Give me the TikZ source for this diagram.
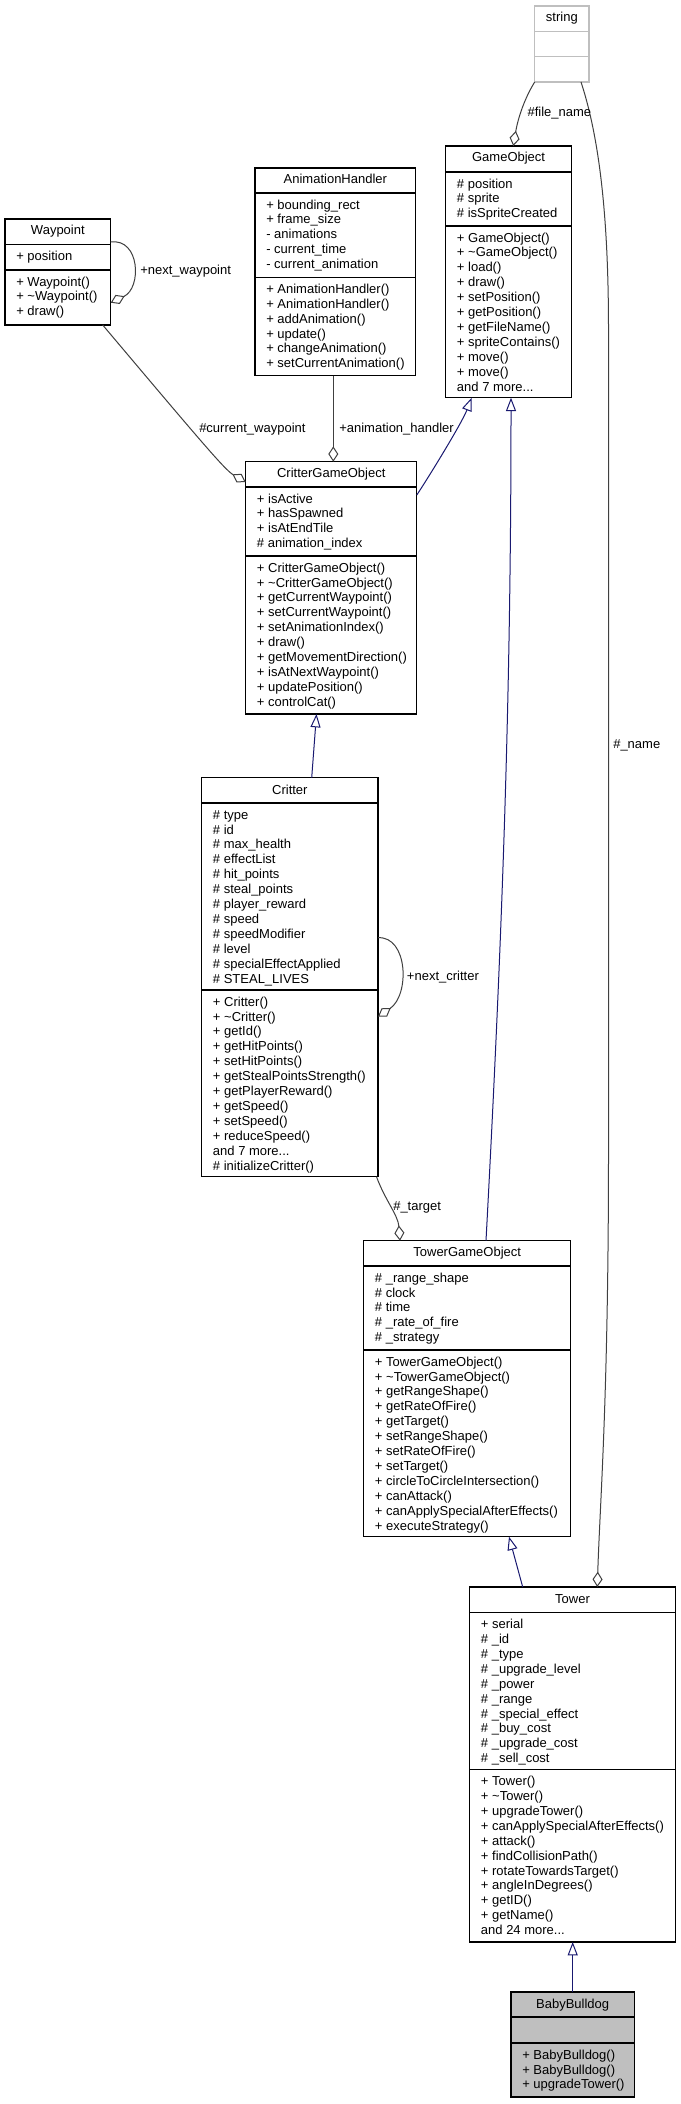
\documentclass[tikz,border=0pt]{standalone}
\usepackage{fontspec}
\setmainfont{Liberation Sans}
\usetikzlibrary{arrows.meta,calc,fit}
\definecolor{mnblue}{HTML}{191970}
\definecolor{gline}{HTML}{404040}
\definecolor{gfill}{HTML}{BFBFBF}
\newcommand\fsz{\fontsize{9.75pt}{11.175pt}\selectfont}
\newcommand\dvd[4][black]{\draw[line width=0.8pt,#1] (#2,#4) -- (#3,#4);}
\begin{document}
\begin{tikzpicture}[x=0.75pt,y=-0.75pt,
  box/.style={draw=black, line width=0.8pt, inner sep=0pt, outer sep=0pt, fill=white},
  txt/.style={anchor=north west, inner sep=0pt, align=left, font=\fsz},
  ttl/.style={anchor=base, inner sep=0pt, font=\fsz},
  lbl/.style={anchor=west, inner sep=0pt, font=\fsz},
  inh/.style={draw=mnblue, line width=0.75pt, -{Triangle[length=10pt,width=7.5pt,fill=white,line width=0.75pt]}},
  agg/.style={draw=gline, line width=0.75pt, -{Diamond[length=11.5pt,width=7.5pt,fill=white,line width=0.75pt]}}]
\useasboundingbox (0,0) rectangle (681,2104);
\fill[white] (0,0) rectangle (681,2104);

% ---------- string ----------
\coordinate (str-a) at (534.7,6); \coordinate (str-b) at (589,82);
\node[box, draw=gfill, fit=(str-a)(str-b)] (str) {};
\dvd[gfill]{534.7}{589}{31.7}
\dvd[gfill]{534.7}{589}{56.7}
\node[ttl] (str-t) at (561.85,22) {string};

% ---------- Waypoint ----------
\coordinate (wp-a0) at (5,219); \coordinate (wp-b0) at (110.7,325);
\node[box, fit=(wp-a0)(wp-b0)] (wp) {};
\dvd{5}{110.7}{244.3}
\dvd{5}{110.7}{270}
\node[ttl] (wp-t) at (57.85,235) {Waypoint};
\node[txt] (wp-a) at (16,249.7) {\strut+ position};
\node[txt] (wp-m) at (16,275.4) {\strut+ Waypoint()\\\strut+ \textasciitilde Waypoint()\\\strut+ draw()};

% ---------- AnimationHandler ----------
\coordinate (ah-a0) at (255,168); \coordinate (ah-b0) at (415.7,375.7);
\node[box, fit=(ah-a0)(ah-b0)] (ah) {};
\dvd{255}{415.7}{193}
\dvd{255}{415.7}{277.3}
\node[ttl] (ah-t) at (335.35,184) {AnimationHandler};
\node[txt] (ah-a) at (266,198.4) {\strut+ bounding\_rect\\\strut+ frame\_size\\\strut- animations\\\strut- current\_time\\\strut- current\_animation};
\node[txt] (ah-m) at (266,282.7) {\strut+ AnimationHandler()\\\strut+ AnimationHandler()\\\strut+ addAnimation()\\\strut+ update()\\\strut+ changeAnimation()\\\strut+ setCurrentAnimation()};

% ---------- GameObject ----------
\coordinate (go-a0) at (445.7,146); \coordinate (go-b0) at (571.5,397.7);
\node[box, fit=(go-a0)(go-b0)] (go) {};
\dvd{445.7}{571.5}{172}
\dvd{445.7}{571.5}{226}
\node[ttl] (go-t) at (508.6,162) {GameObject};
\node[txt] (go-a) at (456.7,177.4) {\strut\# position\\\strut\# sprite\\\strut\# isSpriteCreated};
\node[txt] (go-m) at (456.7,231.4) {\strut+ GameObject()\\\strut+ \textasciitilde GameObject()\\\strut+ load()\\\strut+ draw()\\\strut+ setPosition()\\\strut+ getPosition()\\\strut+ getFileName()\\\strut+ spriteContains()\\\strut+ move()\\\strut+ move()\\\strut and 7 more...};

% ---------- CritterGameObject ----------
\coordinate (cgo-a0) at (245.7,461.7); \coordinate (cgo-b0) at (416.8,714);
\node[box, fit=(cgo-a0)(cgo-b0)] (cgo) {};
\dvd{245.7}{416.8}{487}
\dvd{245.7}{416.8}{556}
\node[ttl] (cgo-t) at (331.25,477.7) {CritterGameObject};
\node[txt] (cgo-a) at (256.7,492.4) {\strut+ isActive\\\strut+ hasSpawned\\\strut+ isAtEndTile\\\strut\# animation\_index};
\node[txt] (cgo-m) at (256.7,561.4) {\strut+ CritterGameObject()\\\strut+ \textasciitilde CritterGameObject()\\\strut+ getCurrentWaypoint()\\\strut+ setCurrentWaypoint()\\\strut+ setAnimationIndex()\\\strut+ draw()\\\strut+ getMovementDirection()\\\strut+ isAtNextWaypoint()\\\strut+ updatePosition()\\\strut+ controlCat()};

% ---------- Critter ----------
\coordinate (crit-a0) at (201.7,777.7); \coordinate (crit-b0) at (378,1176.7);
\node[box, fit=(crit-a0)(crit-b0)] (crit) {};
\dvd{201.7}{378}{803}
\dvd{201.7}{378}{990}
\node[ttl] (crit-t) at (289.85,794) {Critter};
\node[txt] (crit-a) at (212.7,808.4) {\strut\# type\\\strut\# id\\\strut\# max\_health\\\strut\# effectList\\\strut\# hit\_points\\\strut\# steal\_points\\\strut\# player\_reward\\\strut\# speed\\\strut\# speedModifier\\\strut\# level\\\strut\# specialEffectApplied\\\strut\# STEAL\_LIVES};
\node[txt] (crit-m) at (212.7,995.4) {\strut+ Critter()\\\strut+ \textasciitilde Critter()\\\strut+ getId()\\\strut+ getHitPoints()\\\strut+ setHitPoints()\\\strut+ getStealPointsStrength()\\\strut+ getPlayerReward()\\\strut+ getSpeed()\\\strut+ setSpeed()\\\strut+ reduceSpeed()\\\strut and 7 more...\\\strut\# initializeCritter()};

% ---------- TowerGameObject ----------
\coordinate (tgo-a0) at (363.7,1240.7); \coordinate (tgo-b0) at (570.7,1536.7);
\node[box, fit=(tgo-a0)(tgo-b0)] (tgo) {};
\dvd{363.7}{570.7}{1266}
\dvd{363.7}{570.7}{1350}
\node[ttl] (tgo-t) at (467.2,1256.7) {TowerGameObject};
\node[txt] (tgo-a) at (374.7,1271.4) {\strut\# \_range\_shape\\\strut\# clock\\\strut\# time\\\strut\# \_rate\_of\_fire\\\strut\# \_strategy};
\node[txt] (tgo-m) at (374.7,1355.4) {\strut+ TowerGameObject()\\\strut+ \textasciitilde TowerGameObject()\\\strut+ getRangeShape()\\\strut+ getRateOfFire()\\\strut+ getTarget()\\\strut+ setRangeShape()\\\strut+ setRateOfFire()\\\strut+ setTarget()\\\strut+ circleToCircleIntersection()\\\strut+ canAttack()\\\strut+ canApplySpecialAfterEffects()\\\strut+ executeStrategy()};

% ---------- Tower ----------
\coordinate (tower-a0) at (469.7,1587); \coordinate (tower-b0) at (675.3,1942);
\node[box, fit=(tower-a0)(tower-b0)] (tower) {};
\dvd{469.7}{675.3}{1612.5}
\dvd{469.7}{675.3}{1769.5}
\node[ttl] (tower-t) at (572.5,1603) {Tower};
\node[txt] (tower-a) at (480.7,1617.9) {\strut+ serial\\\strut\# \_id\\\strut\# \_type\\\strut\# \_upgrade\_level\\\strut\# \_power\\\strut\# \_range\\\strut\# \_special\_effect\\\strut\# \_buy\_cost\\\strut\# \_upgrade\_cost\\\strut\# \_sell\_cost};
\node[txt] (tower-m) at (480.7,1774.9) {\strut+ Tower()\\\strut+ \textasciitilde Tower()\\\strut+ upgradeTower()\\\strut+ canApplySpecialAfterEffects()\\\strut+ attack()\\\strut+ findCollisionPath()\\\strut+ rotateTowardsTarget()\\\strut+ angleInDegrees()\\\strut+ getID()\\\strut+ getName()\\\strut and 24 more...};

% ---------- BabyBulldog ----------
\coordinate (bb-a0) at (511,1992); \coordinate (bb-b0) at (634.3,2097);
\node[box, fill=gfill, fit=(bb-a0)(bb-b0)] (bb) {};
\dvd{511}{634.3}{2017}
\dvd{511}{634.3}{2043}
\node[ttl] (bb-t) at (572.65,2008) {BabyBulldog};
\node[txt] (bb-m) at (522,2048.4) {\strut+ BabyBulldog()\\\strut+ BabyBulldog()\\\strut+ upgradeTower()};

% ---------- associations ----------
\draw[agg] (str.south west) .. controls +(-10,16) and +(4.7,-28) .. ($(go.north west)+(67.6,0)$);
\draw[agg] ($(str.south east)+(-8,0)$) .. controls +(19,58) and +(0,-110) .. (608.5,330) -- (608.5,1150) .. controls +(0,250) and +(2.7,-87) .. ($(tower.north west)+(127.6,0)$);
\draw[agg] ($(wp.north east)+(0,23)$) .. controls +(29.3,-4) and +(31.3,-14.7) .. ($(wp.north east)+(0,83.7)$);
\draw[agg] ($(wp.south east)+(-8,0)$) .. controls +(97,115) and +(-20.7,-12) .. ($(cgo.north west)+(0,20.3)$);
\draw[agg] ($(ah.south west)+(78.3,0)$) -- ($(cgo.north west)+(87.6,0)$);
\draw[agg] ($(crit.north east)+(0,160)$) .. controls +(30,-1.7) and +(32,-21.7) .. ($(crit.north east)+(0,239)$);
\draw[agg] ($(crit.south east)+(-1.5,0)$) .. controls +(8.5,23.3) and +(-2,-25.7) .. ($(tgo.north west)+(36.3,0)$);

% ---------- inheritance ----------
\draw[inh] ($(cgo.north east)+(0,33.3)$) .. controls +(13.2,-20) and +(-9.7,25) .. ($(go.south west)+(26,0)$);
\draw[inh] ($(crit.north west)+(110,0)$) -- ($(cgo.south west)+(70.8,0)$);
\draw[inh] ($(tgo.north west)+(122.3,0)$) .. controls +(16,-300) and +(0,302.3) .. ($(go.south west)+(65.3,0)$);
\draw[inh] ($(tower.north west)+(53,0)$) -- ($(tgo.south west)+(145.3,0)$);
\draw[inh] ($(bb.north west)+(61.7,0)$) -- ($(tower.south west)+(103,0)$);

% ---------- labels ----------
\node[lbl] (l-file) at (527.3,113.3) {\#file\_name};
\node[lbl] (l-nwp) at (140,270.7) {+next\_waypoint};
\node[lbl] (l-cwp) at (199,428.7) {\#current\_waypoint};
\node[lbl] (l-ah) at (339,428.7) {+animation\_handler};
\node[lbl] (l-name) at (613,745) {\#\_name};
\node[lbl] (l-ncr) at (406.7,976.7) {+next\_critter};
\node[lbl] (l-tgt) at (393,1207.7) {\#\_target};
\end{tikzpicture}
\end{document}
